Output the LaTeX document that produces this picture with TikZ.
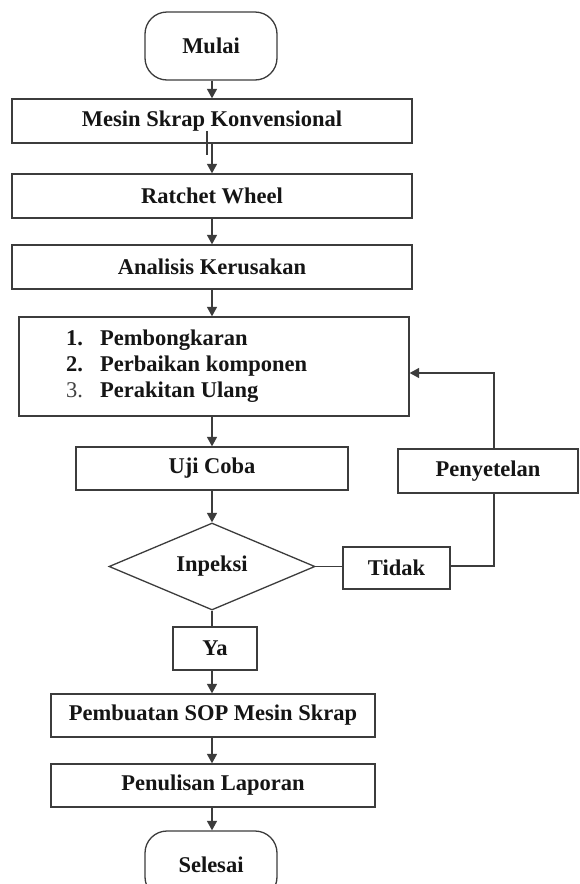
\documentclass[tikz,border=0pt]{standalone}
\usepackage{fontspec}
\setmainfont{Liberation Serif}
\usetikzlibrary{shapes.geometric,arrows.meta}
\definecolor{ln}{HTML}{3C3C3C}
\definecolor{tx}{HTML}{151515}
\begin{document}
\begin{tikzpicture}[x=1pt,y=-1pt,
  every node/.style={font=\fontsize{22.5}{26}\selectfont\bfseries, text=tx},
  box/.style={draw=ln, line width=1.3pt, inner sep=0pt, fill=white},
  term/.style={box, rounded corners=22pt},
  dec/.style={box, diamond, aspect=2.37},
  lbl/.style={anchor=base west, inner sep=0pt},
  ln/.style={draw=ln, line width=1.3pt},
  arr/.style={ln, -{Triangle[length=9.5pt,width=10pt]}}]
\useasboundingbox (0,0) rectangle (580,884);
\clip (0,0) rectangle (580,884);
\fill[white] (0,0) rectangle (580,884);

\node[term, minimum width=132pt, minimum height=68pt] (mulai) at (211,46) {Mulai};
\node[box, minimum width=400pt, minimum height=44pt] (mesin) at (212,121) {Mesin Skrap Konvensional};
\node[box, minimum width=400pt, minimum height=44pt] (ratchet) at (212,196) {Ratchet Wheel};
\node[box, minimum width=400pt, minimum height=44pt] (analisis) at (212,267) {Analisis Kerusakan};
\node[box, minimum width=390pt, minimum height=99pt] (list) at (214,366.5) {};
\node[lbl] (n1) at (66,345) {1.};
\node[lbl] (t1) at (100,345) {Pembongkaran};
\node[lbl] (n2) at (66,371) {2.};
\node[lbl] (t2) at (100,371) {Perbaikan komponen};
\node[lbl, font=\fontsize{22.5}{26}\selectfont\mdseries, text=black!75] (n3) at (66,397) {3.};
\node[lbl] (t3) at (100,397) {Perakitan Ulang};
\node[box, minimum width=272pt, minimum height=43pt] (uji) at (212,468.5) {Uji Coba};
\node[box, minimum width=180pt, minimum height=44pt] (pen) at (488,471) {Penyetelan};
\node[dec, minimum width=206pt, minimum height=87pt] (insp) at (212,566.5) {Inpeksi};
\node[box, minimum width=107pt, minimum height=42pt] (tidak) at (396.5,568) {Tidak};
\node[box, minimum width=84pt, minimum height=43pt] (ya) at (215,648.5) {Ya};
\node[box, minimum width=324pt, minimum height=43pt] (sop) at (213,715.5) {Pembuatan SOP Mesin Skrap};
\node[box, minimum width=324pt, minimum height=43pt] (lap) at (213,785.5) {Penulisan Laporan};
\node[term, minimum width=132pt, minimum height=68pt] (selesai) at (211,865) {Selesai};

\coordinate (fbtop) at (494,373);
\coordinate (col) at (212,0);

\draw[arr] (mulai.south -| col) -- (col |- mesin.north);
\draw[ln] ([xshift=-5pt,yshift=-11pt]mesin.south) -- ([xshift=-5pt,yshift=13pt]mesin.south);
\draw[arr] (mesin.south -| col) -- (col |- ratchet.north);
\draw[arr] (ratchet.south -| col) -- (col |- analisis.north);
\draw[arr] (analisis.south -| col) -- (col |- list.north);
\draw[arr] (list.south -| col) -- (col |- uji.north);
\draw[arr] (uji.south -| col) -- (insp.north);
\draw[ln] (insp.south) -- (insp.south |- ya.north);
\draw[arr] (ya.south -| insp.south) -- (insp.south |- sop.north);
\draw[arr] (sop.south -| col) -- (col |- lap.north);
\draw[arr] (lap.south -| col) -- (col |- selesai.north);
\draw[ln] (insp.east) -- (insp.east -| tidak.west);
\draw[ln] ([yshift=2pt]tidak.east) -- ([yshift=2pt]tidak.east -| fbtop) -- (fbtop |- pen.south);
\draw[arr] (pen.north -| fbtop) -- (fbtop) -- (fbtop -| list.east);
\end{tikzpicture}
\end{document}
